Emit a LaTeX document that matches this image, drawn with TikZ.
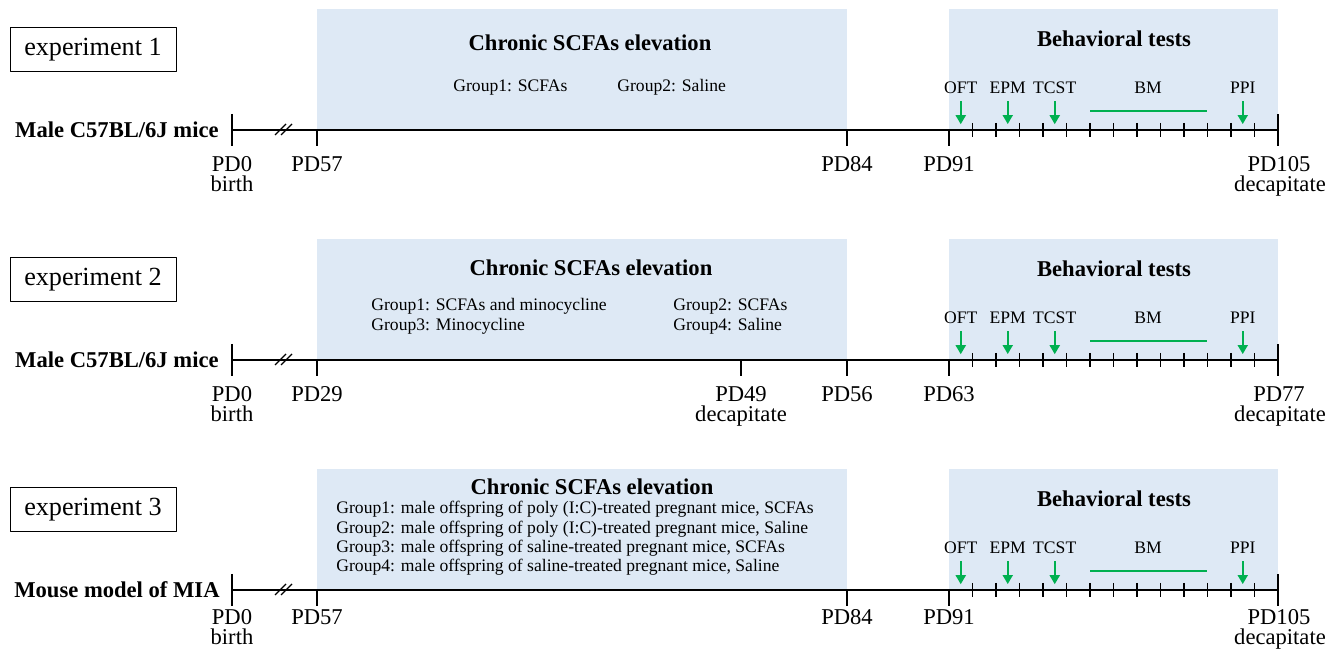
\documentclass[tikz,border=0pt]{standalone}
\usepackage{fontspec}
\setmainfont{Liberation Serif}
\usetikzlibrary{arrows.meta}
\definecolor{boxblue}{RGB}{222,233,245}
\definecolor{testgreen}{RGB}{0,176,80}
\begin{document}
\begin{tikzpicture}[x=0.5pt, y=-0.5pt, line join=round, font=\fontsize{11.3}{12}\selectfont,
    smalltext/.style={font=\fontsize{8.8}{10}\selectfont},
    grouptext/.style={font=\fontsize{8.8}{10}\selectfont, anchor=base west, inner sep=0pt},
    headtext/.style={font=\fontsize{11.3}{12}\selectfont\bfseries, anchor=base, inner sep=0pt},
    daytext/.style={anchor=base, inner sep=0pt},
    expbox/.style={draw, line width=0.5pt, minimum width=83pt, minimum height=22pt, inner sep=0pt, font=\fontsize{13.1}{14}\selectfont},
    timeaxis/.style={line width=1.1pt},
    daytick/.style={line width=0.9pt},
    testarrow/.style={testgreen, line width=0.9pt, -{Triangle[length=4.5pt,width=5pt]}}]
\useasboundingbox (0,0) rectangle (1341,651);

% parts that all three time lines share
\foreach \dy/\k in {0/1,230/2,460/3}{
  \begin{scope}[shift={(0,\dy)}]
    \fill[boxblue] (317,9) rectangle (847,130);
    \fill[boxblue] (949,9) rectangle (1278,130);
    \node[headtext] (beh\k) at (1114,47) {Behavioral tests};
    % time axis
    \coordinate (start\k) at (232,130);
    \coordinate (end\k) at (1278,130);
    \draw[timeaxis] (start\k) -- (end\k);
    \draw[daytick] (232,114) -- (232,146);
    \draw[daytick] (1278,114) -- (1278,146);
    \draw[line width=0.6pt] (275,135) -- (286,124) (281,135) -- (292,124);
    \foreach \x in {317,847,949} \draw[daytick] (\x,130) -- (\x,146);
    \foreach \d in {1,...,13} \draw[daytick] (949+23.5*\d,123) -- (949+23.5*\d,137);
    % tests
    \foreach \d/\lab/\nm in {0.5/OFT/oft,2.5/EPM/epm,4.5/TCST/tcst,12.5/PPI/ppi}{
      \node[smalltext, anchor=base] (\nm\k) at (949+23.5*\d,94) {\lab};
      \draw[testarrow] (\nm\k.south) -- ++(0,23);
    }
    \node[smalltext, anchor=base] (bm\k) at (1148,94) {BM};
    \draw[testgreen, line width=1pt] (1090,111) -- (1207,111);
  \end{scope}
}

% experiment 1
\node[expbox] (exp1) at (93,50) {experiment 1};
\node[headtext, anchor=base east] (mice1) at (219,138) {Male C57BL/6J mice};
\node[headtext] (chron1) at (590,51) {Chronic SCFAs elevation};
\node[grouptext] (g1a) at (453,92) {Group1: SCFAs};
\node[grouptext] (g1b) at (617,92) {Group2: Saline};
\node[daytext] (pd0a) at (232,172) {PD0};
\node[daytext] (birth1) at (232,192) {birth};
\node[daytext] (pd57a) at (317,172) {PD57};
\node[daytext] (pd84a) at (847,172) {PD84};
\node[daytext] (pd91a) at (949,172) {PD91};
\node[daytext] (pd105a) at (1279,172) {PD105};
\node[daytext] (dec1) at (1280,192) {decapitate};

% experiment 2
\node[expbox] (exp2) at (93,280) {experiment 2};
\node[headtext, anchor=base east] (mice2) at (219,368) {Male C57BL/6J mice};
\node[headtext] (chron2) at (591,276) {Chronic SCFAs elevation};
\node[grouptext] (g2a) at (371,311) {Group1: SCFAs and minocycline};
\node[grouptext] (g2c) at (371,331) {Group3: Minocycline};
\node[grouptext] (g2b) at (673,311) {Group2: SCFAs};
\node[grouptext] (g2d) at (673,331) {Group4: Saline};
\draw[daytick] (741,360) -- (741,376);
\node[daytext] (pd0b) at (232,402) {PD0};
\node[daytext] (birth2) at (232,422) {birth};
\node[daytext] (pd29b) at (317,402) {PD29};
\node[daytext] (pd49b) at (741,402) {PD49};
\node[daytext] (dec2a) at (741,422) {decapitate};
\node[daytext] (pd56b) at (847,402) {PD56};
\node[daytext] (pd63b) at (949,402) {PD63};
\node[daytext] (pd77b) at (1279,402) {PD77};
\node[daytext] (dec2b) at (1280,422) {decapitate};

% experiment 3
\node[expbox] (exp3) at (93,510) {experiment 3};
\node[headtext, anchor=base east] (mice3) at (220,598) {Mouse model of MIA};
\node[headtext] (chron3) at (592,495) {Chronic SCFAs elevation};
\node[grouptext] (g3a) at (336,514) {Group1: male offspring of poly (I:C)-treated pregnant mice, SCFAs};
\node[grouptext] (g3b) at (336,533.5) {Group2: male offspring of poly (I:C)-treated pregnant mice, Saline};
\node[grouptext] (g3c) at (336,553) {Group3: male offspring of saline-treated pregnant mice, SCFAs};
\node[grouptext] (g3d) at (336,572) {Group4: male offspring of saline-treated pregnant mice, Saline};
\node[daytext] (pd0c) at (232,625) {PD0};
\node[daytext] (birth3) at (232,645) {birth};
\node[daytext] (pd57c) at (317,625) {PD57};
\node[daytext] (pd84c) at (847,625) {PD84};
\node[daytext] (pd91c) at (949,625) {PD91};
\node[daytext] (pd105c) at (1279,625) {PD105};
\node[daytext] (dec3) at (1280,645) {decapitate};
\end{tikzpicture}
\end{document}
